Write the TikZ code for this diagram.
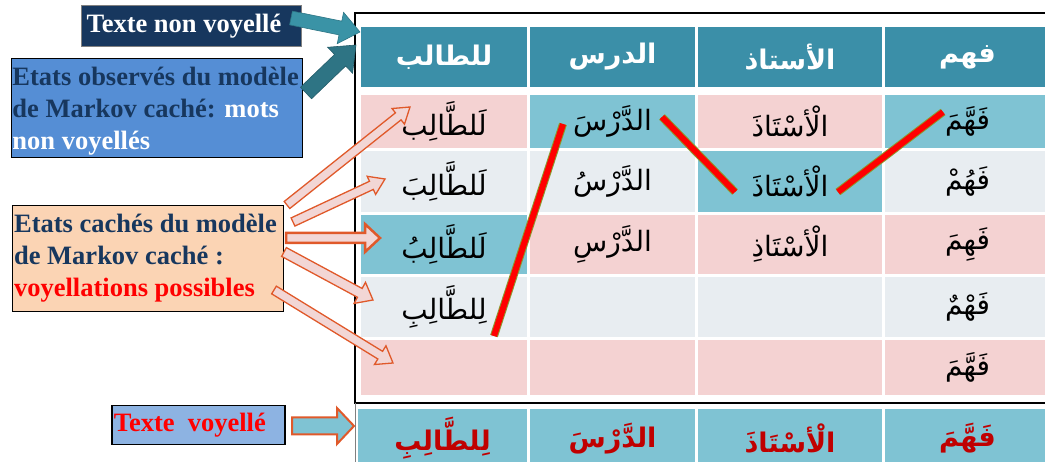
\documentclass[tikz,border=0pt]{standalone}
\usepackage{fontspec}
\setmainfont{Liberation Serif}
\newfontfamily\arfont[Script=Arabic]{DejaVu Sans}
\TeXXeTstate=1
\usetikzlibrary{calc}

\definecolor{headteal}{HTML}{3B8FA8}
\definecolor{lteal}{HTML}{7FC3D3}
\definecolor{cpink}{HTML}{F4D2D2}
\definecolor{cgray}{HTML}{E8EDF1}
\definecolor{navy}{HTML}{17375E}
\definecolor{obsblue}{HTML}{558ED5}
\definecolor{peach}{HTML}{FBD4B4}
\definecolor{paleblue}{HTML}{8DB3E2}
\definecolor{darkred}{HTML}{C00000}
\definecolor{arrowedge}{HTML}{E0592A}
\definecolor{arrowfill}{HTML}{F2D6D5}
\definecolor{tealA}{HTML}{3A93A6}
\definecolor{tealB}{HTML}{2E7484}
\definecolor{pathedge}{HTML}{8C9A2E}
\definecolor{pathred}{HTML}{FF0000}

% right-to-left Arabic run
\newcommand\ar[1]{{\arfont\beginR#1\endR}}

% block arrow from #2 to #3: half shaft #4, half head #5, head length #6
\newcommand\blockarrow[6][]{%
  \path[#1] let \p1=(#2), \p2=(#3),
    \n1={atan2(\y2-\y1,\x2-\x1)}, \n2={veclen(\x2-\x1,\y2-\y1)} in
    [shift={(\p1)}, rotate=\n1]
    (0pt,-#4pt) -- ({\n2-#6},-#4pt) -- ({\n2-#6},-#5pt) -- (\n2,0pt)
    -- ({\n2-#6},#5pt) -- ({\n2-#6},#4pt) -- (0pt,#4pt) -- cycle;}

% table cell: [style] name, x1, y1, x2, y2, fill, text
\newcommand\cell[8][cellbox]{%
  \node[#1, fill=#7, minimum width={#5-#3}, minimum height={#6-#4}]
    (#2) at ({(#3+#5)/2},{(#4+#6)/2}) {\ar{#8}};}

\begin{document}
\begin{tikzpicture}[x=1pt,y=-1pt,
  cellbox/.style={rectangle, inner sep=0pt, draw=none,
    font=\fontsize{28}{32}\selectfont},
  headcell/.style={cellbox, text=white, font=\fontsize{27}{32}\selectfont\bfseries},
  outcell/.style={cellbox, text=darkred, font=\fontsize{27}{32}\selectfont\bfseries},
  legend/.style={rectangle, anchor=north west, align=flush left, inner ysep=0pt,
    font=\fontsize{26.5}{32}\selectfont\bfseries},
  hollow/.style={fill=arrowfill, draw=arrowedge, line width=1.3pt, line join=miter},
  viterbi/.style={draw=pathedge, line width=1pt, double=pathred, double distance=6pt}]

\useasboundingbox (0,0) rectangle (1045,462);
\clip (0,0) rectangle (1045,462);

% frame round the lattice
\draw[line width=2pt] (355,13) rectangle (1060,403);
\draw[gray, line width=1pt] (355,403) -- (355,462);

% header: unvowelled words
\cell[headcell]{h1}{361}{27}{527}{87}{headteal}{للطالب}
\cell[headcell]{h2}{530}{27}{695}{87}{headteal}{الدرس}
\cell[headcell]{h3}{698}{27}{882}{87}{headteal}{الأستاذ}
\cell[headcell]{h4}{885}{27}{1050}{87}{headteal}{فهم}

% candidate vowellings
\cell{r1c1}{361}{95}{527}{148}{cpink}{لَلطَّالِب}
\cell{r1c2}{530}{95}{695}{148}{lteal}{الدَّرْسَ}
\cell{r1c3}{698}{95}{882}{148}{cpink}{الْأسْتَاذَ}
\cell{r1c4}{885}{95}{1050}{148}{lteal}{فَهَّمَ}

\cell{r2c1}{361}{151}{527}{212}{cgray}{لَلطَّالِبَ}
\cell{r2c2}{530}{151}{695}{212}{cgray}{الدَّرْسُ}
\cell{r2c3}{698}{151}{882}{212}{lteal}{الْأسْتَاذَ}
\cell{r2c4}{885}{151}{1050}{212}{cgray}{فَهُمْ}

\cell{r3c1}{361}{215}{527}{274}{lteal}{لَلطَّالِبُ}
\cell{r3c2}{530}{215}{695}{274}{cpink}{الدَّرْسِ}
\cell{r3c3}{698}{215}{882}{274}{cpink}{الْأسْتَاذِ}
\cell{r3c4}{885}{215}{1050}{274}{cpink}{فَهِمَ}

\cell{r4c1}{361}{277}{527}{337}{cgray}{لِلطَّالِبِ}
\cell{r4c2}{530}{277}{695}{337}{cgray}{}
\cell{r4c3}{698}{277}{882}{337}{cgray}{}
\cell{r4c4}{885}{277}{1050}{337}{cgray}{فَهْمٌ}

\cell{r5c1}{361}{340}{527}{395}{cpink}{}
\cell{r5c2}{530}{340}{695}{395}{cpink}{}
\cell{r5c3}{698}{340}{882}{395}{cpink}{}
\cell{r5c4}{885}{340}{1050}{395}{cpink}{فَهَّمَ}

% output: vowelled text
\cell[outcell]{o1}{358}{409}{527}{468}{lteal}{لِلطَّالِبِ}
\cell[outcell]{o2}{530}{409}{695}{468}{lteal}{الدَّرْسَ}
\cell[outcell]{o3}{698}{409}{882}{468}{lteal}{الْأسْتَاذَ}
\cell[outcell]{o4}{885}{409}{1050}{468}{lteal}{فَهَّمَ}

% best path through the lattice
\coordinate (v1a) at (494,336); \coordinate (v1b) at (563,124);
\coordinate (v2a) at (662,117); \coordinate (v2b) at (735,192);
\coordinate (v3a) at (838,192); \coordinate (v3b) at (943,112);
\draw[viterbi] (v1a) -- (v1b);
\draw[viterbi] (v2a) -- (v2b);
\draw[viterbi] (v3a) -- (v3b);

% legend boxes
\node[legend, draw=gray, line width=1pt, fill=navy, text=white,
  text width=210pt, inner xsep=5pt, minimum height=41pt] (tnv) at (81,5)
  {Texte non voyellé};
\node[legend, draw=black, line width=1pt, fill=obsblue, text=navy,
  text width=289pt, inner xsep=1pt, minimum height=99pt] (obs) at (11,58)
  {\rule{0pt}{24pt}Etats observés du modèle\\de Markov caché: \textcolor{white}{mots}\\\textcolor{white}{non voyellés}};
\node[legend, draw=black, line width=1.2pt, fill=peach, text=navy,
  text width=268pt, inner xsep=1.5pt, minimum height=106pt] (hid) at (12,205)
  {Etats cachés du modèle\\de Markov caché :\\\textcolor{red}{voyellations possibles}};
\node[legend, draw=black, line width=1.5pt, fill=paleblue, text=red,
  text width=169pt, inner xsep=2pt, minimum height=39pt] (tv) at (111,405)
  {Texte\ \ voyellé};

% arrows from the legend boxes
\coordinate (t1s) at (291,18);  \coordinate (t1e) at (360,32);
\coordinate (t2s) at (306,93);  \coordinate (t2e) at (356,45);
\blockarrow[fill=tealA, draw=tealA!80!black, line width=0.6pt]{t1s}{t1e}{7}{16}{20}
\blockarrow[fill=tealB, draw=tealB!80!black, line width=0.6pt]{t2s}{t2e}{8}{18}{22}

\coordinate (ha) at (287,205); \coordinate (ha') at (410,107);
\coordinate (hb) at (293,222); \coordinate (hb') at (385,179);
\coordinate (hc) at (286,238); \coordinate (hc') at (380,238);
\coordinate (hd) at (284,252); \coordinate (hd') at (373,300);
\coordinate (he) at (274,290); \coordinate (he') at (393,363);
\blockarrow[hollow]{ha}{ha'}{4.5}{10}{15}
\blockarrow[hollow]{hb}{hb'}{4.5}{10}{15}
\blockarrow[hollow, line width=2.5pt]{hc}{hc'}{5}{14}{15}
\blockarrow[hollow]{hd}{hd'}{5}{12}{15}
\blockarrow[hollow]{he}{he'}{4.5}{11}{15}

\coordinate (tvs) at (292,426); \coordinate (tve) at (354,426);
\blockarrow[fill=lteal, draw=arrowedge, line width=2pt]{tvs}{tve}{8.5}{18}{17}
\end{tikzpicture}
\end{document}
